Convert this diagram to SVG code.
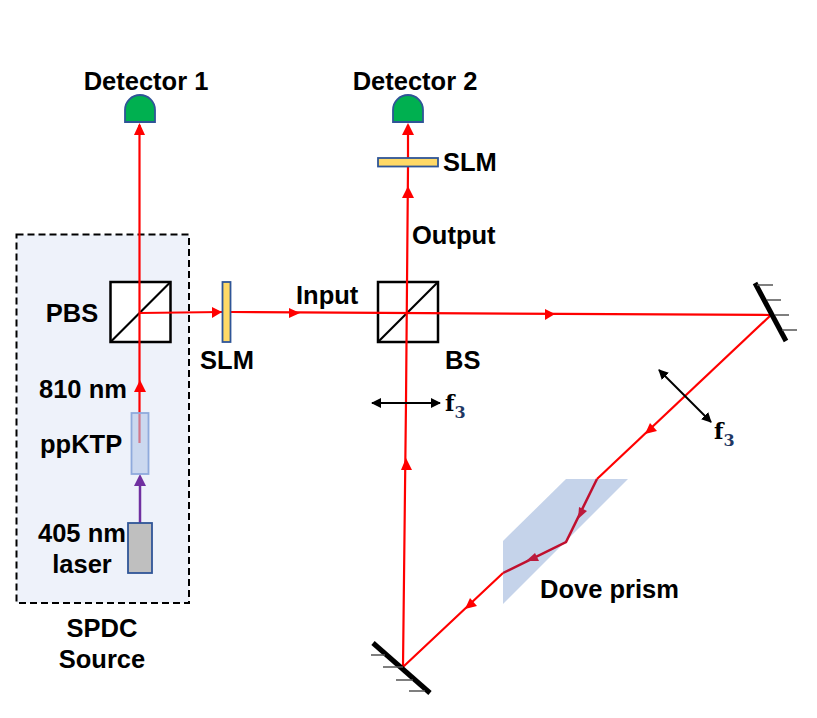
<svg xmlns="http://www.w3.org/2000/svg" width="817" height="718" viewBox="0 0 817 718">
<style>
text{font-family:"Liberation Sans",Arial,sans-serif;font-weight:700;font-size:25.500px;fill:#000}
.m{text-anchor:middle}
.f{font-family:"DejaVu Serif","Liberation Serif",serif;font-size:22px}
.s{font-size:16px;fill:#1f3864}
.beam{fill:none;stroke:#f00;stroke-width:2.200}
.dark{fill:none;stroke:#c00f2e;stroke-width:2.500}
.ah{fill:#f00}
.ahd{fill:#bb1a3c}
.cube{fill:#fff;stroke:#000;stroke-width:2.500}
.diag{stroke:#000;stroke-width:2.200}
.slm{fill:#ffd966;stroke:#2f5597;stroke-width:1.800}
.det{fill:#00b050;stroke:#2f5597;stroke-width:1.800}
.mir{stroke:#000;stroke-width:5}
.tick{stroke:#555;stroke-width:1.600}
.lens{stroke:#000;stroke-width:2;marker-start:url(#lh);marker-end:url(#lh)}
</style>
<defs>
<marker id="lh" markerWidth="5" markerHeight="5" refX="4.500" refY="2.500" orient="auto-start-reverse" markerUnits="strokeWidth"><path d="M0 0L5 2.500L0 5z" fill="#000"/></marker>
</defs>
<g id="spdc-source">
<rect x="16.500" y="234.500" width="172.500" height="368.500" fill="#eef2fa" stroke="#000" stroke-width="2" stroke-dasharray="7 4"/>
<text class="m" x="102" y="637">SPDC</text>
<text class="m" x="102" y="668">Source</text>
</g>
<g id="pbs">
<rect class="cube" x="110.500" y="282" width="60" height="60"/>
<line class="diag" x1="110.500" y1="342" x2="170.500" y2="282"/>
<text class="m" x="72" y="322">PBS</text>
</g>
<g id="bs">
<rect class="cube" x="378" y="282" width="60" height="60"/>
<line class="diag" x1="378" y1="342" x2="438" y2="282"/>
<text x="445" y="369">BS</text>
</g>
<g id="dove-prism">
<polygon points="566,479 628,479 503,604 503,541" fill="#c5d3ea"/>
<text x="540" y="598">Dove prism</text>
</g>
<g id="connectors">
<path class="beam" d="M139.500 443V125"/>
<path class="beam" d="M139.500 313L222 312"/>
<path class="beam" d="M231 312L771 315"/>
<path class="beam" d="M771 315L597 479"/>
<path class="dark" d="M597 479L566 542L503 573"/>
<path class="beam" d="M503 573L403 667L406 402L408 167"/>
<path class="beam" d="M408 158V125"/>
<path d="M140 523V480" fill="none" stroke="#7030a0" stroke-width="2.500"/>
<polygon class="ah" points="139.500,123 145,135 134,135"/>
<polygon class="ah" points="140,380 146,392 134,392"/>
<polygon class="ah" points="222,312 212,307 212,318"/>
<polygon class="ah" points="300,313 289,308 289,318"/>
<polygon class="ah" points="555,314 545,309 545,320"/>
<polygon class="ah" points="645,434 650,423 657,431"/>
<polygon class="ah" points="465,609 470,598 477,606"/>
<polygon class="ah" points="406,458 401,470 412,470"/>
<polygon class="ah" points="408,186 402,198 414,198"/>
<polygon class="ah" points="408,123 402,135 414,135"/>
<polygon class="ahd" points="578,519 579,507 587,511"/>
<polygon class="ahd" points="526,561 535,553 539,561"/>
<polygon points="140,474 146,486 134,486" fill="#7030a0"/>
</g>
<g id="detector-1">
<path class="det" d="M125 122V110A15 15 0 0 1 155 110V122Z"/>
<text class="m" x="146" y="90">Detector 1</text>
</g>
<g id="detector-2">
<path class="det" d="M393 122V110A15 15 0 0 1 423 110V122Z"/>
<text class="m" x="415" y="90">Detector 2</text>
</g>
<g id="slm-1">
<rect class="slm" x="222.500" y="282" width="8" height="60"/>
<text class="m" x="227" y="369">SLM</text>
</g>
<g id="slm-2">
<rect class="slm" x="378" y="158" width="60" height="8.500"/>
<text x="443" y="171">SLM</text>
</g>
<g id="labels">
<text x="412" y="244">Output</text>
<text x="296" y="304">Input</text>
<text x="39" y="398">810 nm</text>
</g>
<g id="ppktp">
<rect x="131.500" y="413" width="17" height="61" fill="#b4c7e7" fill-opacity="0.6" stroke="#8faadc" stroke-width="1.800"/>
<text x="40" y="453">ppKTP</text>
</g>
<g id="laser">
<rect x="128" y="523" width="24" height="50" fill="#bfbfbf" stroke="#2f5597" stroke-width="1.800"/>
<text x="38" y="542">405 nm</text>
<text class="m" x="82" y="573">laser</text>
</g>
<g id="lens-1">
<line class="lens" x1="372" y1="403" x2="440" y2="403"/>
<text class="f" x="445" y="411">f<tspan class="s" dy="7">3</tspan></text>
</g>
<g id="lens-2">
<line class="lens" x1="659" y1="370" x2="711" y2="422"/>
<text class="f" x="714" y="439">f<tspan class="s" dy="7">3</tspan></text>
</g>
<g id="mirror-1">
<line class="mir" x1="755" y1="283" x2="786" y2="341"/>
<path class="tick" d="M757 285H773M767 300H781M775 315H789M782 330H797"/>
</g>
<g id="mirror-2">
<line class="mir" x1="373" y1="643" x2="430" y2="693"/>
<path class="tick" d="M371 655H385M383 667H403M396 680H413M409 691H425"/>
</g>
</svg>
